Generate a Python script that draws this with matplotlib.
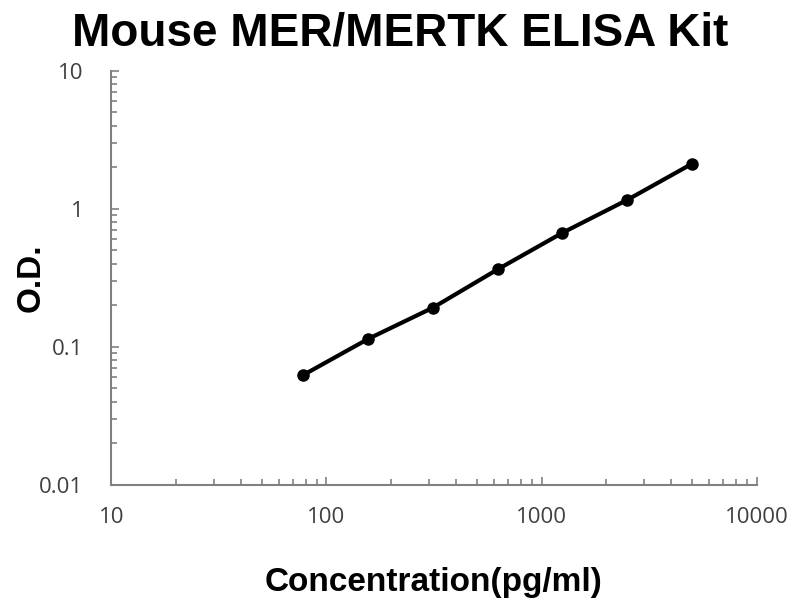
import matplotlib
matplotlib.use("Agg")
import matplotlib.pyplot as plt
from matplotlib.ticker import LogLocator, FixedLocator, NullFormatter

# standard curve points
conc = [78.125, 156.25, 312.5, 625, 1250, 2500, 5000]
od = [0.0625, 0.114, 0.192, 0.364, 0.67, 1.16, 2.12]

x_ticks = [10, 100, 1000, 10000]
x_labels = ["10", "100", "1000", "10000"]
y_ticks = [0.01, 0.1, 1, 10]
y_labels = ["0.01", "0.1", "1", "10"]

fig = plt.figure(figsize=(8, 6), dpi=100)
ax = fig.add_axes([0.139, 0.192, 0.807, 0.690])

ax.plot(conc, od, color="black", linewidth=3, marker="o", markersize=8)

ax.set_xscale("log")
ax.set_yscale("log")
ax.set_xlim(10, 10000)
ax.set_ylim(0.01, 10)

ax.xaxis.set_major_locator(FixedLocator(x_ticks))
ax.yaxis.set_major_locator(FixedLocator(y_ticks))
ax.set_xticklabels(x_labels, family="Open Sans")
ax.set_yticklabels(y_labels, family="Open Sans")
ax.xaxis.set_minor_locator(LogLocator(base=10, subs=range(2, 10)))
ax.yaxis.set_minor_locator(LogLocator(base=10, subs=range(2, 10)))
ax.xaxis.set_minor_formatter(NullFormatter())
ax.yaxis.set_minor_formatter(NullFormatter())

for side in ["top", "right"]:
    ax.spines[side].set_visible(False)
for side in ["left", "bottom"]:
    ax.spines[side].set_color("#808080")
    ax.spines[side].set_linewidth(1.5)

ax.tick_params(which="both", direction="in", color="#808080", width=1.2)
ax.tick_params(which="major", length=6, labelsize=16, labelcolor="#404040")
ax.tick_params(axis="x", which="major", pad=16)
ax.tick_params(axis="y", which="major", pad=20)
ax.tick_params(which="minor", length=4)

# title is centred on the figure, not the axes
fig.text(0.5, 0.925, "Mouse MER/MERTK ELISA Kit", fontsize=33, fontweight="bold",
         family="Liberation Sans", ha="center", va="baseline")
ax.set_xlabel("Concentration(pg/ml)", fontsize=24, fontweight="bold",
              family="Liberation Sans", labelpad=28)
ax.set_ylabel("O.D.", fontsize=24, fontweight="bold",
              family="Liberation Sans", labelpad=-5)

fig.savefig("out.png", dpi=100)
